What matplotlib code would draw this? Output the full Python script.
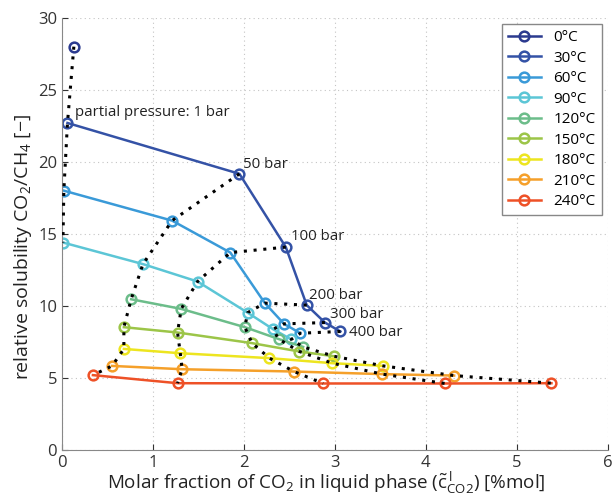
import matplotlib.pyplot as plt

plt.rcParams['font.family'] = ['Open Sans', 'DejaVu Sans']
plt.rcParams['mathtext.fontset'] = 'custom'
plt.rcParams['mathtext.rm'] = 'Open Sans'
plt.rcParams['mathtext.it'] = 'Open Sans'

temps = ['0°C', '30°C', '60°C', '90°C', '120°C', '150°C', '180°C', '210°C', '240°C']
colors = ['#2b3a8f', '#3452a6', '#3a9ad8', '#5cc6d6', '#6cbd8a', '#9cc548', '#ede51f', '#f5a02a', '#ee5127']

# pressures (bar) measured at each temperature
p_low = [1]
p_cold = [1, 50, 100, 200, 300, 400]
p_hot = [50, 100, 200, 300, 400]
pressures = [p_low, p_cold, p_cold, p_cold, p_hot, p_hot, p_hot, p_hot, p_hot]

x_vals = [
    [0.13],
    [0.06, 1.95, 2.46, 2.69, 2.89, 3.06],
    [0.02, 1.21, 1.85, 2.23, 2.44, 2.62],
    [0.01, 0.89, 1.49, 2.04, 2.32, 2.52],
    [0.76, 1.31, 2.01, 2.38, 2.65],
    [0.68, 1.27, 2.09, 2.61, 2.99],
    [0.68, 1.30, 2.28, 2.97, 3.53],
    [0.55, 1.32, 2.55, 3.52, 4.31],
    [0.34, 1.27, 2.87, 4.21, 5.38],
]
y_vals = [
    [28.0],
    [22.7, 19.17, 14.08, 10.05, 8.84, 8.22],
    [18.0, 15.92, 13.7, 10.19, 8.75, 8.1],
    [14.4, 12.9, 11.69, 9.53, 8.38, 7.67],
    [10.46, 9.79, 8.52, 7.7, 7.15],
    [8.52, 8.15, 7.41, 6.83, 6.5],
    [7.01, 6.71, 6.37, 6.02, 5.83],
    [5.83, 5.6, 5.44, 5.26, 5.16],
    [5.19, 4.63, 4.61, 4.61, 4.63],
]

isobars = [1, 50, 100, 200, 300, 400]
iso_labels = ['partial pressure: 1 bar', '50 bar', '100 bar', '200 bar', '300 bar', '400 bar']
label_pos = [(0.14, 23.4), (1.99, 19.8), (2.52, 14.8), (2.72, 10.7), (2.95, 9.4), (3.15, 8.15)]

fig = plt.figure(figsize=(6.14, 4.96), dpi=100)
ax = fig.add_axes([0.101, 0.093, 0.889, 0.871])

# dotted isobars through the points of the same pressure
for p in isobars:
    xs, ys = [], []
    for pr, xv, yv in zip(pressures, x_vals, y_vals):
        if p in pr:
            i = pr.index(p)
            xs.append(xv[i])
            ys.append(yv[i])
    ax.plot(xs, ys, ls=(0, (1, 2.2)), color='black', lw=2.2, zorder=3)

for t, c, xv, yv in zip(temps, colors, x_vals, y_vals):
    ax.plot(xv, yv, '-o', color=c, lw=1.8, ms=7, mfc='none', mew=1.8, label=t, zorder=2)

for lab, (lx, ly) in zip(iso_labels, label_pos):
    ax.text(lx, ly, lab, fontsize=10.8, color='#222222', va='center', ha='left')

ax.set_xlim(0, 6)
ax.set_ylim(0, 30)
ax.set_xticks(range(7))
ax.set_yticks(range(0, 31, 5))
ax.grid(True, ls=(0, (1, 3)), color='#c4c4c4', lw=0.8)
ax.tick_params(direction='in', labelsize=12, colors='#333333', length=4)
for s in ['top', 'right']:
    ax.spines[s].set_visible(False)
for s in ['left', 'bottom']:
    ax.spines[s].set_color('#888888')

ax.set_xlabel(r'Molar fraction of CO$_2$ in liquid phase ($\tilde{\mathrm{c}}^{\,l}_{\mathrm{CO2}}$) [%mol]',
              fontsize=13.6, color='#222222')
ax.set_ylabel(r'relative solubility CO$_2$/CH$_4$ [$-$]', fontsize=14, color='#222222')
ax.xaxis.set_label_coords(0.484, -0.047)
ax.yaxis.set_label_coords(-0.052, 0.47)

leg = ax.legend(loc='upper right', fontsize=11, labelspacing=0.36, handlelength=2.2,
                fancybox=False, framealpha=1, edgecolor='#888888', borderaxespad=0.4)
leg.get_frame().set_linewidth(1.0)

fig.savefig('out.png', dpi=100)
